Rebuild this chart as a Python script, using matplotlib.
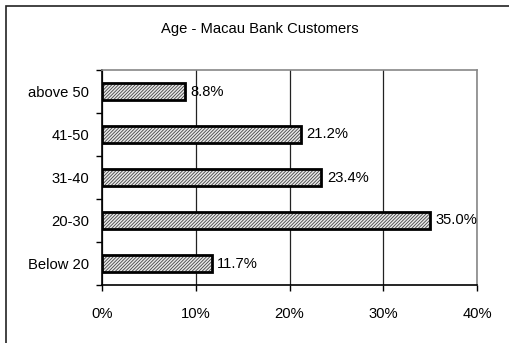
import matplotlib
matplotlib.use("Agg")
import matplotlib.pyplot as plt
from matplotlib.patches import Rectangle

categories = ["Below 20", "20-30", "31-40", "41-50", "above 50"]
values = [11.7, 35.0, 23.4, 21.2, 8.8]
xticks = [0, 10, 20, 30, 40]
xtick_labels = ["0%", "10%", "20%", "30%", "40%"]
title = "Age - Macau Bank Customers"

plt.rcParams['font.family'] = ['Liberation Sans', 'DejaVu Sans']
plt.rcParams['hatch.linewidth'] = 0.6
plt.rcParams['hatch.color'] = '#333333'

FS = 10.6
W, H = 510, 343
fig = plt.figure(figsize=(W/100, H/100), dpi=100)
fig.patch.set_facecolor('white')
# outer frame
fig.add_artist(Rectangle((6/W, -0.1), 1.1, 1 - 6/H + 0.1, transform=fig.transFigure,
                         fill=False, edgecolor='#222222', linewidth=1.2))

l, r, t, b = 102, 477, 70, 285
ax = fig.add_axes([l/W, 1 - b/H, (r-l)/W, (b-t)/H])
y = list(range(len(categories)))
ax.barh(y, values, height=0.4, color='#e8e8e8', hatch='//////////', edgecolor='#444444', linewidth=0, zorder=3)
ax.barh(y, values, height=0.4, fill=False, edgecolor='black', linewidth=2, zorder=4)
for yi, v in zip(y, values):
    ax.text(v + 0.6, yi, f"{v:.1f}%", va='center', ha='left', fontsize=FS, zorder=5)

ax.set_xlim(0, 40)
ax.set_ylim(-0.5, len(categories) - 0.5)
ax.set_xticks(xticks)
ax.set_xticklabels(xtick_labels, fontsize=FS)
ax.set_yticks(y)
ax.set_yticklabels(categories, fontsize=FS)
ax.set_yticks([i - 0.5 for i in range(len(categories) + 1)], minor=True)
ax.tick_params(axis='y', which='major', length=0, pad=9)
ax.tick_params(axis='y', which='minor', length=4, width=1, direction='out')
ax.tick_params(axis='x', which='major', length=4, width=1, direction='out', pad=12)
ax.xaxis.grid(True, color='#222222', linewidth=0.9, zorder=1)
for s in ['left', 'bottom']:
    ax.spines[s].set_color('black')
    ax.spines[s].set_linewidth(1.2)
for s in ['top', 'right']:
    ax.spines[s].set_color('#888888')
    ax.spines[s].set_linewidth(1.2)
fig.text(260/W, 1 - 29/H, title, ha='center', va='center', fontsize=FS)

fig.savefig("out.png", dpi=100)
